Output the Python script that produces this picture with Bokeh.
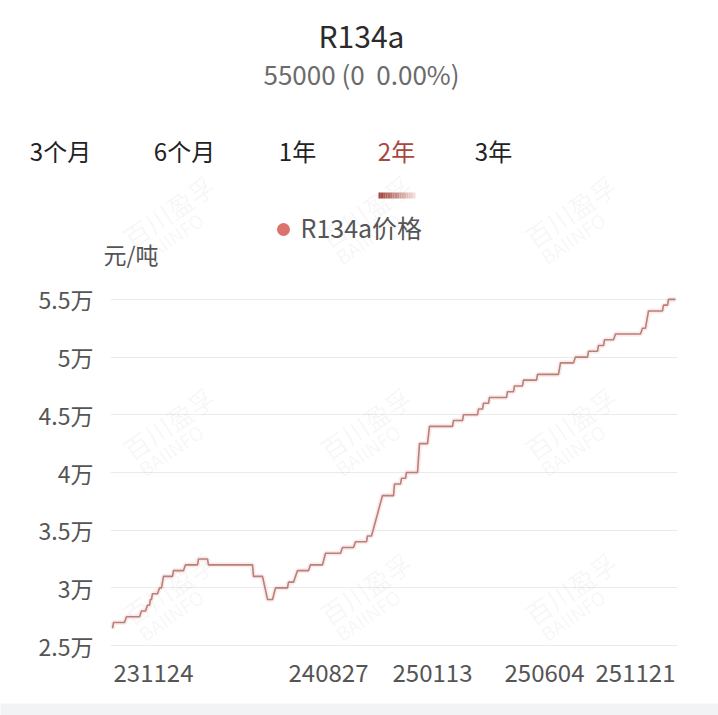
from bokeh.plotting import figure
from bokeh.models import Range1d, FixedTicker
from bokeh.core.properties import value
from bokeh.embed import file_html
from bokeh.resources import INLINE

FONT = "Noto Sans CJK SC"

# ---------------- data (step levels) ----------------
lvl_start = [0, 1, 14, 29, 35, 38, 40, 47, 51, 61,
             73, 86, 96, 141, 155, 163, 176, 185, 198, 213,
             230, 243, 255, 270, 282, 289, 294, 307, 317, 341,
             351, 366, 371, 377, 395, 402, 411, 425, 448, 463,
             476, 486, 492, 503, 530, 536, 551, 556]
lvl_end = [0, 12, 27, 33, 37, 39, 45, 49, 60, 71,
           85, 95, 140, 150, 160, 175, 181, 196, 210, 228,
           241, 254, 259, 281, 288, 293, 305, 315, 340, 350,
           365, 370, 376, 394, 401, 410, 424, 446, 461, 475,
           485, 491, 501, 528, 533, 550, 555, 563]
lvl_val = [26500, 27000, 27500, 28000, 28500, 29000, 29500, 30000, 31000, 31500,
           32000, 32500, 32000, 31000, 29000, 30000, 30500, 31500, 32000, 33000,
           33500, 34000, 34500, 38000, 39000, 39500, 40000, 42500, 44000, 44500,
           45000, 45500, 46000, 46500, 47000, 47500, 48000, 48500, 49500, 50000,
           50500, 51000, 51500, 52000, 52500, 54000, 54500, 55000]

x_tick_idx = [41, 216, 320, 432, 523]
x_tick_labels = ["231124", "240827", "250113", "250604", "251121"]
y_tick_vals = [25000, 30000, 35000, 40000, 45000, 50000, 55000]
y_tick_labels = ["2.5万", "3万", "3.5万", "4万", "4.5万", "5万", "5.5万"]

title_text = "R134a"
subtitle_text = "55000 (0\u00a0 0.00%)"
tabs = ["3个月", "6个月", "1年", "2年", "3年"]
active_tab = "2年"
series_name = "R134a价格"
unit_text = "元/吨"

xs, ys = [], []
for s, e, v in zip(lvl_start, lvl_end, lvl_val):
    xs += [s, e]
    ys += [v, v]

W = 718
HEADER_H = 275
MAIN_H = 428
FOOT_H = 12

# ---------------- header (page-pixel coordinates, y = -page_y) ----------------
h = figure(width=W, height=HEADER_H, x_range=Range1d(0, W), y_range=Range1d(-HEADER_H, 0),
           output_backend="svg", toolbar_location=None, x_axis_type=None,
           y_axis_type=None, min_border=0)
h.grid.visible = False
h.outline_line_color = None

TEXT_DY = -3  # vertical correction for the font's metrics


def htext(px, py, text, size, color, align="center", style="normal", angle=0.0, alpha=1.0):
    h.text(x=[px], y=[-(py + TEXT_DY)], text=[text], text_align=align, text_baseline="middle",
           text_font=value(FONT), text_font_size=size, text_color=color,
           text_font_style=style, angle=angle, text_alpha=alpha)


wm_cx = [155, 352, 557]
wm_cy = [228, 440, 605]
for cx in wm_cx:
    htext(cx - 30, wm_cy[0] + 15, "百川盈孚", "26px", "#000000", align="left", angle=0.6, alpha=0.05)
    htext(cx - 15, wm_cy[0] + 33, "BAIINFO", "19px", "#000000", align="left", angle=0.6, alpha=0.05)

htext(361, 37, title_text, "30px", "#2b2b2b")
htext(361, 76, subtitle_text, "26px", "#6b6b6b")
tab_x = [60, 184, 297, 396, 493]
for tx, t in zip(tab_x, tabs):
    htext(tx, 153, t, "24px", "#a5483f" if t == active_tab else "#222222")

n = 16
bx0, bx1 = 378, 415
for i in range(n):
    fr = i / (n - 1)
    r = int(0xa0 + (0xf3 - 0xa0) * fr)
    g = int(0x45 + (0xdc - 0x45) * fr)
    b = int(0x3e + (0xda - 0x3e) * fr)
    h.quad(left=[bx0 + (bx1 - bx0) * i / n], right=[bx0 + (bx1 - bx0) * (i + 1) / n],
           bottom=[-198], top=[-192], fill_color="#%02x%02x%02x" % (r, g, b),
           line_color=None)

h.scatter(x=[283], y=[-229], size=13, color="#db736c", line_color=None)
htext(300, 229, series_name, "25px", "#555555", align="left")
htext(103, 256, unit_text, "23px", "#555555", align="left")

# ---------------- main chart ----------------
BL, BR, BT, BB = 110, 41, 21, 55
X0, X1 = -2, 565
Y0, Y1 = 24750, 55250
FW = W - BL - BR
FH = MAIN_H - BT - BB

p = figure(width=W, height=MAIN_H, x_range=Range1d(X0, X1), y_range=Range1d(Y0, Y1),
           output_backend="svg", toolbar_location=None,
           min_border_left=BL, min_border_right=BR, min_border_top=BT, min_border_bottom=BB)
p.outline_line_color = None
p.xgrid.visible = False
p.ygrid.ticker = FixedTicker(ticks=y_tick_vals)
p.ygrid.grid_line_color = "#ebebeb"
p.ygrid.grid_line_width = 1.2

frame_top_page = HEADER_H + BT
frame_left_page = BL


def dx(px):
    return X0 + (px - frame_left_page) * (X1 - X0) / FW


def dy(py):
    return Y1 - (py - frame_top_page) * (Y1 - Y0) / FH


for cx in wm_cx:
    for cy in wm_cy[1:]:
        p.text(x=[dx(cx - 30)], y=[dy(cy + 15 + TEXT_DY)], text=["百川盈孚"], angle=0.6,
               text_font=value(FONT), text_font_size="26px", text_color="#000000",
               text_alpha=0.05, text_baseline="middle")
        p.text(x=[dx(cx - 15)], y=[dy(cy + 33 + TEXT_DY)], text=["BAIINFO"], angle=0.6,
               text_font=value(FONT), text_font_size="19px", text_color="#000000",
               text_alpha=0.05, text_baseline="middle")

p.line(xs, ys, line_width=5, line_color="#f5dbd8", line_alpha=0.55)
p.line(xs, ys, line_width=1.6, line_color="#b98079")

p.yaxis.ticker = FixedTicker(ticks=y_tick_vals)
p.yaxis.major_label_overrides = {v: l for v, l in zip(y_tick_vals, y_tick_labels)}
p.xaxis.ticker = FixedTicker(ticks=x_tick_idx)
p.xaxis.major_label_overrides = {v: l for v, l in zip(x_tick_idx, x_tick_labels)}
for ax in (p.xaxis, p.yaxis):
    ax.axis_line_color = None
    ax.major_tick_line_color = None
    ax.minor_tick_line_color = None
    ax.major_label_text_font = FONT
    ax.major_label_text_color = "#555555"
p.yaxis.major_label_text_font_size = "23px"
p.xaxis.major_label_text_font_size = "24px"
p.yaxis.major_label_standoff = 11
p.xaxis.major_label_standoff = 9

# ---------------- footer band ----------------
f = figure(width=W, height=FOOT_H, output_backend="svg", toolbar_location=None,
           x_axis_type=None, y_axis_type=None, min_border=0)
f.grid.visible = False
f.outline_line_color = None
f.background_fill_color = "#f2f3f5"
f.border_fill_color = "#f2f3f5"

open("out.html", "w").write(file_html([h, p, f], INLINE))
